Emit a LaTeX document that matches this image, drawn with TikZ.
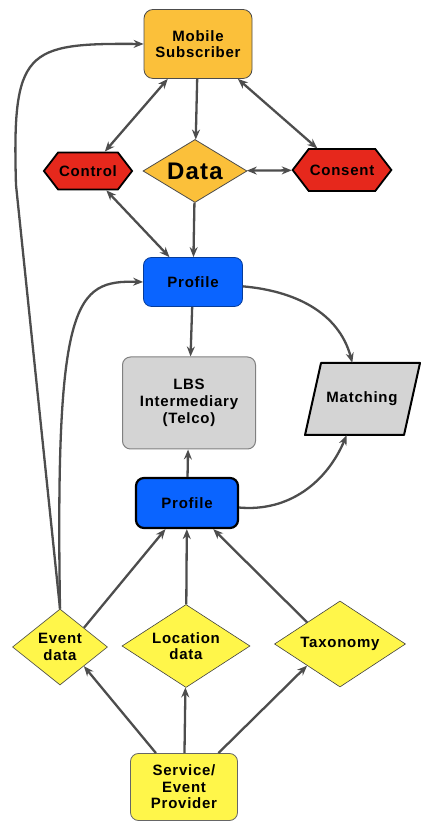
\documentclass[tikz,border=0pt]{standalone}
\usepackage{fontspec}
\setmainfont{Liberation Sans}[LetterSpace=5]
\usetikzlibrary{shapes.geometric,shapes.symbols,arrows.meta}

\definecolor{subscriber}{RGB}{251,192,58}
\definecolor{ctrlred}{RGB}{230,40,28}
\definecolor{profileblue}{RGB}{10,100,255}
\definecolor{telcogray}{RGB}{212,212,212}
\definecolor{provyellow}{RGB}{255,246,74}
\definecolor{linegray}{RGB}{77,77,77}

\begin{document}
\begin{tikzpicture}[x=1pt,y=1pt,
  every node/.style={font=\bfseries\fontsize{15}{16.5}\selectfont, align=center, inner sep=1pt},
  subbox/.style={rounded corners=9pt, fill=subscriber, draw=black!70, line width=0.8pt},
  ctrlhex/.style={signal, signal to=east and west, signal pointer angle=105, fill=ctrlred, draw=black, line width=1.8pt},
  profbox/.style={rounded corners=8pt, fill=profileblue, minimum width=99pt, minimum height=49pt},
  yeldiam/.style={diamond, fill=provyellow, draw=black!75, line width=0.6pt},
  arr/.style={draw=linegray, line width=2.3pt, -{Stealth[length=10pt,width=8pt]}},
  dbl/.style={arr, {Stealth[length=10pt,width=8pt]}-{Stealth[length=10pt,width=8pt]}}]
\useasboundingbox (0,0) rectangle (422,821);

% subscriber side
\node[subbox, minimum width=108pt, minimum height=69pt] (ms) at (198,777) {Mobile\\Subscriber};
\node[diamond, shape aspect=1.65, fill=subscriber, draw=black!70, line width=0.8pt,
  minimum width=104pt, minimum height=63pt, font=\bfseries\fontsize{24}{26}\selectfont] (ds) at (195,650) {Data};
\node[ctrlhex, minimum width=87pt, minimum height=37pt] (ctl) at (88,650) {Control};
\node[ctrlhex, minimum width=93pt, minimum height=42pt] (cs) at (342,651) {Consent};
\node[profbox, draw=profileblue!60!black, line width=0.8pt] (pt) at (193,539) {Profile};

% intermediary
\node[rounded corners=8pt, fill=telcogray, draw=black!50, line width=1pt,
  minimum width=133pt, minimum height=92pt, font=\bfseries\fontsize{15}{17}\selectfont] (lbs) at (189,418) {LBS\\Intermediary\\(Telco)};
% matching: slanted box
\filldraw[fill=telcogray, draw=black, line width=2pt, line join=round]
  (305,386) -- (321,458) -- (420,458) -- (404,386) -- cycle;
\node[minimum width=99pt, minimum height=72pt] (mt) at (362,422) {Matching};
\node[profbox, draw=black, line width=2.2pt, minimum width=102pt, minimum height=50pt] (pb) at (187,318) {Profile};

% provider side
\node[yeldiam, shape aspect=1.25, minimum width=95pt, minimum height=76pt] (ev) at (60,174) {Event\\data};
\node[yeldiam, shape aspect=1.54, minimum width=128pt, minimum height=83pt] (ld) at (186,175) {Location\\data};
\node[yeldiam, shape aspect=1.52, minimum width=131pt, minimum height=86pt] (tx) at (340,177) {Taxonomy};
\node[rounded corners=8pt, fill=provyellow, draw=black!60, line width=0.8pt,
  minimum width=107pt, minimum height=67pt] (sp) at (184,34) {Service/\\Event\\Provider};

% connectors
\draw[arr] (ms) -- (ds);
\draw[dbl] (ms) -- (ctl);
\draw[dbl] (ms) -- (cs);
\draw[dbl] (ds) -- (cs);
\draw[dbl] (ctl) -- (pt);
\draw[arr] (ds) -- (pt);
\draw[arr] (pt) -- (lbs);
\draw[arr] (pt) to[out=-5,in=105] (mt);
\draw[arr] (pb) -- (lbs);
\draw[arr] (pb) to[out=-5,in=247] (mt);
\draw[arr] (ev.north) -- (16,636) .. controls (12,771) and (25,778) .. (ms.west);
\draw[arr] (ev.north) .. controls (55,521) and (75,541) .. (pt.west);
\draw[arr] (ev.north east) -- (pb);
\draw[arr] (ld) -- (pb);
\draw[arr] (tx.north west) -- (pb);
\draw[arr] (sp) -- (ev.south east);
\draw[arr] (sp) -- (ld);
\draw[arr] (sp) -- (tx.south west);
\end{tikzpicture}
\end{document}
